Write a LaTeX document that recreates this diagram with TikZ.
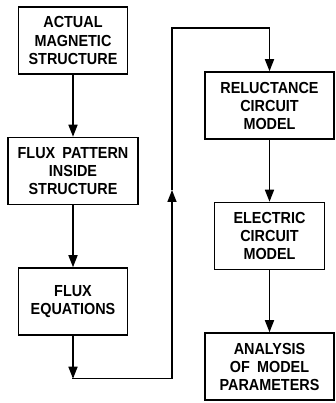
\documentclass[tikz,border=0pt]{standalone}
\usepackage{fontspec}
\setmainfont{Liberation Sans}[FakeStretch=0.9, WordSpace=1.8]
\usepackage{tikz}
\usetikzlibrary{positioning, arrows.meta}

\begin{document}
\begin{tikzpicture}[node distance=62pt, >={Triangle[length=12pt, width=9pt]}, line width=1.5pt,
    every node/.style={font=\bfseries\fontsize{16}{18}\selectfont},
    block/.style={draw, rectangle, align=center, minimum height=67pt, inner sep=2pt}]
    \useasboundingbox (0,0) rectangle (335pt,403pt);

    \node [block, minimum width=109pt] (actual) at (73pt,362.5pt) {ACTUAL\\MAGNETIC\\STRUCTURE};
    \node [block, minimum width=130pt, below=of actual] (pattern) {FLUX PATTERN\\INSIDE\\STRUCTURE};
    \node [block, minimum width=109pt, below=of pattern] (equations) {FLUX\\EQUATIONS};

    \node [block, minimum width=129pt] (reluctance) at (269.5pt,297.5pt) {RELUCTANCE\\CIRCUIT\\MODEL};
    \node [block, minimum width=110pt, below=of reluctance] (electric) {ELECTRIC\\CIRCUIT\\MODEL};
    \node [block, minimum width=129pt, below=of electric] (analysis) {ANALYSIS\\OF MODEL\\PARAMETERS};

    \coordinate [below=43pt of equations] (turn1);
    \coordinate (lift) at (172pt,213pt);
    \coordinate (turn2) at (turn1 -| lift);
    \coordinate (turn3) at (172pt,375pt);

    \draw [->] (actual) -- (pattern);
    \draw [->] (pattern) -- (equations);
    \draw [->] (equations) -- (turn1);
    \draw [->, line cap=rect] (turn1) -- (turn2) -- (lift);
    \draw [->] (lift) -- (turn3) -| (reluctance);
    \draw [->] (reluctance) -- (electric);
    \draw [->] (electric) -- (analysis);
\end{tikzpicture}
\end{document}
